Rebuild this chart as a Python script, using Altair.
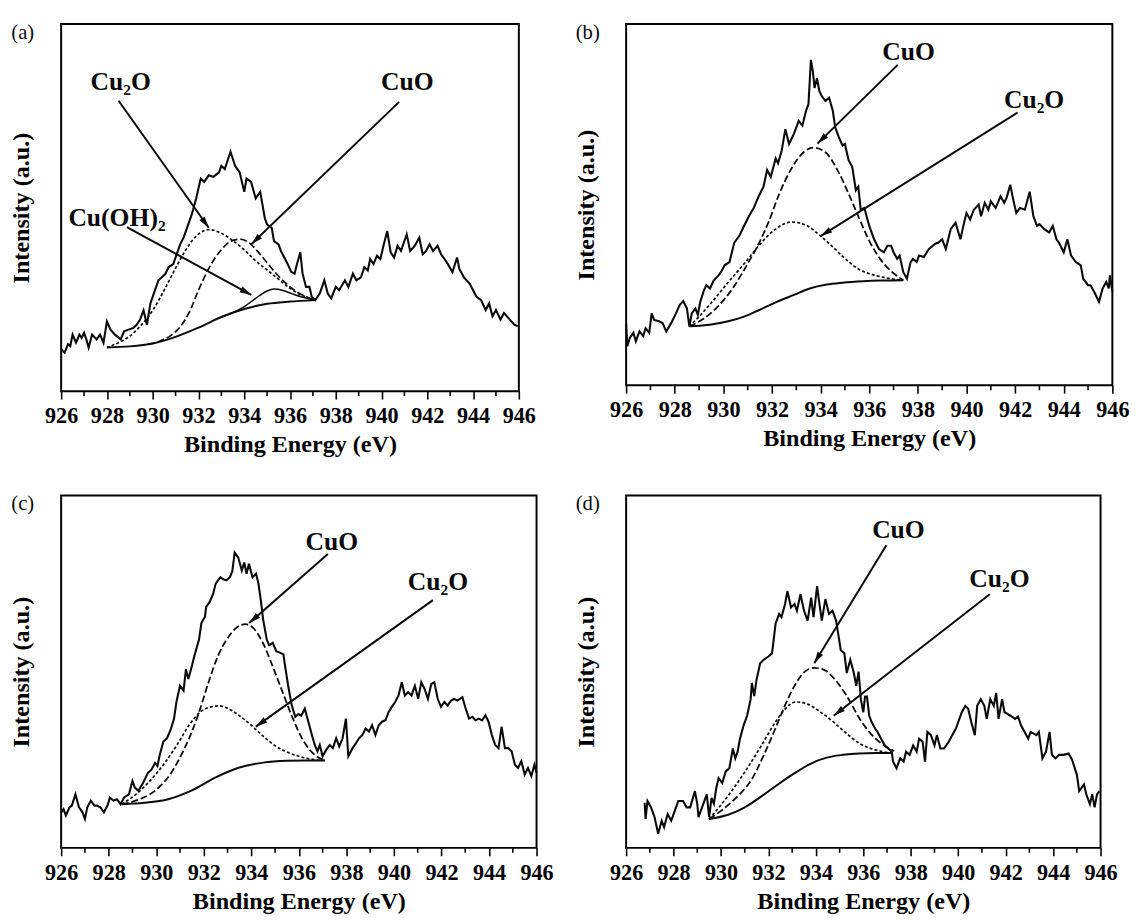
import math
import altair as alt
import pandas as pd

FONT = "Liberation Serif"
INK = "#0a0a0a"

# ---------------- panel (a) ----------------
A_E = [926.0, 926.15, 926.3, 926.4, 926.5, 926.65, 926.8, 926.9, 927.0, 927.1, 927.2, 927.35, 927.55, 927.7,
       927.85, 928.0, 928.15, 928.35, 928.6, 928.75, 929.0, 929.15, 929.3, 929.45, 929.6, 929.75, 929.9, 930.1,
       930.25, 930.4, 930.55, 930.7, 930.9, 931.0, 931.2, 931.35, 931.5, 931.7, 931.9, 932.1, 932.25, 932.45,
       932.65, 932.9, 933.0, 933.15, 933.4, 933.6, 933.8, 934.0, 934.1, 934.3, 934.5, 934.7, 934.9, 935.0,
       935.2, 935.3, 935.5, 935.6, 935.75, 935.9, 936.05, 936.2, 936.3, 936.45, 936.55, 936.7, 936.85, 936.95,
       937.1, 937.3, 937.5, 937.65, 937.8, 938.0, 938.15, 938.4, 938.55, 938.75, 938.9, 939.1, 939.25, 939.4,
       939.5, 939.65, 939.8, 939.95, 940.1, 940.25, 940.4, 940.55, 940.7, 940.85, 941.0, 941.1, 941.25, 941.45,
       941.65, 941.8, 941.95, 942.1, 942.25, 942.45, 942.6, 942.75, 942.9, 943.1, 943.3, 943.4, 943.6, 943.85,
       944.0, 944.15, 944.35, 944.55, 944.7, 944.85, 945.0, 945.2, 945.35, 945.55, 945.8, 945.95]
A_I = [11.4, 10.5, 12.8, 12.3, 15.4, 13.2, 15.4, 14.5, 15.9, 14.1, 11.9, 15.4, 14.1, 15.4,
       13.2, 19.0, 16.8, 15.4, 14.1, 16.3, 16.9, 17.2, 18.1, 19.5, 22.0, 18.1, 23.9, 27.5,
       30.2, 31.0, 31.9, 33.8, 34.6, 36.4, 40.0, 41.8, 44.5, 48.0, 52.5, 57.9, 57.0, 58.8,
       58.4, 59.6, 61.4, 60.5, 65.2, 61.4, 59.6, 54.3, 57.9, 57.0, 52.5, 54.3, 47.1, 45.4,
       44.5, 40.9, 40.0, 38.2, 36.4, 34.6, 32.5, 32.0, 34.5, 37.8, 32.0, 28.4, 28.4, 25.7,
       24.8, 26.6, 30.2, 26.6, 25.3, 28.4, 27.5, 30.2, 28.4, 32.0, 30.2, 31.0, 33.8, 32.9,
       36.0, 34.6, 36.9, 36.0, 40.0, 43.6, 37.8, 36.4, 39.6, 38.2, 40.9, 42.7, 38.2, 39.6,
       41.8, 37.3, 38.2, 40.0, 38.2, 39.6, 37.3, 36.0, 34.6, 32.4, 36.4, 33.3, 31.0, 29.3,
       27.5, 25.7, 24.8, 22.1, 23.9, 20.4, 22.1, 19.5, 21.3, 19.9, 18.1, 17.7]
A_BG_E = [928.0, 929.0, 930.0, 931.0, 932.0, 933.0, 934.0, 935.0, 936.0, 937.1]
A_BG_I = [11.9, 12.2, 13.0, 14.8, 17.3, 20.2, 22.4, 23.8, 24.4, 24.8]
A_CU2O_E = [928.0, 928.5, 929.0, 929.5, 930.0, 930.5, 931.0, 931.5, 932.0, 932.45, 933.0, 933.5, 934.0,
            934.5, 935.0, 935.5, 936.0, 936.5, 937.1]
A_CU2O_I = [11.9, 13.2, 15.0, 18.0, 22.0, 27.5, 33.5, 39.0, 42.8, 44.0, 43.0, 41.0, 38.5,
            35.5, 33.0, 30.5, 28.0, 26.2, 24.8]
A_CUO_E = [929.8, 930.3, 930.8, 931.2, 931.6, 932.0, 932.5, 933.0, 933.4, 933.8, 934.2, 934.6, 935.0,
           935.4, 935.8, 936.2, 936.6, 937.1]
A_CUO_I = [12.8, 13.6, 15.2, 17.5, 21.5, 27.5, 34.0, 38.5, 40.8, 41.4, 40.5, 38.0, 35.0,
           32.0, 29.5, 27.5, 26.0, 24.8]
A_CUOH_E = [933.0, 933.5, 934.0, 934.5, 935.0, 935.3, 935.7, 936.1, 936.6, 937.1]
A_CUOH_I = [20.2, 21.4, 23.0, 25.3, 27.3, 27.8, 27.4, 26.5, 25.5, 24.8]
A_ARROW_FROM_E = [928.51, 940.77, 928.87]
A_ARROW_FROM_I = [79.1, 78.8, 44.7]
A_ARROW_TO_E = [932.45, 934.31, 934.31]
A_ARROW_TO_I = [44.5, 40.0, 26.2]
A_LABELS = ["Cu\u2082O", "CuO", "Cu(OH)\u2082"]
A_LABEL_E = [928.6, 941.13, 928.44]
A_LABEL_I = [84.2, 84.2, 47.1]

# ---------------- panel (b) ----------------
B_E = [926.0, 926.05, 926.15, 926.3, 926.4, 926.55, 926.7, 926.8, 926.95, 927.05, 927.15, 927.35, 927.5,
       927.65, 927.85, 928.05, 928.2, 928.35, 928.5, 928.6, 928.7, 928.85, 928.95, 929.05, 929.2, 929.3,
       929.45, 929.6, 929.8, 929.9, 930.05, 930.25, 930.45, 930.65, 930.85, 931.05, 931.25, 931.45, 931.65,
       931.8, 931.95, 932.15, 932.25, 932.4, 932.55, 932.7, 932.9, 933.1, 933.25, 933.4, 933.5, 933.6,
       933.68, 933.75, 933.85, 933.95, 934.05, 934.2, 934.35, 934.5, 934.6, 934.75, 934.9, 935.0, 935.15,
       935.3, 935.45, 935.55, 935.65, 935.8, 936.0, 936.2, 936.4, 936.6, 936.75, 936.9, 937.0, 937.15,
       937.25, 937.4, 937.55, 937.7, 937.8, 937.95, 938.05, 938.25, 938.45, 938.7, 938.85, 939.0, 939.15,
       939.35, 939.55, 939.75, 939.9, 940.0, 940.15, 940.3, 940.5, 940.6, 940.75, 940.9, 941.0, 941.2,
       941.4, 941.55, 941.65, 941.8, 941.95, 942.05, 942.2, 942.4, 942.6, 942.75, 942.9, 943.0, 943.2,
       943.4, 943.55, 943.7, 943.8, 944.0, 944.15, 944.3, 944.5, 944.7, 944.8, 945.0, 945.1, 945.25,
       945.45, 945.6, 945.75, 945.85, 945.9, 946.0]
B_I = [17.0, 10.8, 13.1, 14.5, 12.2, 14.9, 13.6, 15.8, 14.5, 19.9, 18.1, 17.7, 17.2,
       14.9, 17.2, 19.9, 22.2, 23.3, 21.3, 16.3, 19.9, 21.3, 19.5, 23.1, 26.3, 27.7,
       26.8, 29.0, 30.4, 31.3, 33.2, 34.1, 39.5, 41.3, 44.1, 46.8, 49.1, 52.3, 55.0,
       59.6, 57.7, 62.8, 61.5, 65.0, 70.9, 66.8, 69.6, 73.2, 71.9, 76.0, 77.8, 90.1,
       86.9, 82.3, 85.0, 81.4, 80.0, 78.7, 79.6, 76.0, 71.4, 68.7, 66.4, 66.8, 62.3,
       60.5, 54.0, 55.0, 48.6, 49.1, 44.1, 40.4, 37.7, 36.8, 38.6, 38.6, 36.8, 35.0,
       35.9, 31.3, 29.5, 34.1, 35.0, 34.1, 35.9, 35.5, 37.7, 39.1, 39.5, 40.4, 37.7,
       43.2, 45.0, 40.4, 45.0, 47.7, 45.9, 48.6, 50.0, 46.8, 50.5, 48.6, 50.9, 49.1,
       52.3, 50.5, 51.9, 55.5, 50.5, 47.7, 49.1, 48.6, 53.6, 46.8, 44.1, 44.6, 43.2,
       42.3, 44.1, 40.4, 39.5, 36.8, 40.4, 35.9, 34.1, 33.2, 29.5, 27.7, 27.7, 25.9,
       23.1, 26.8, 28.6, 26.8, 30.4, 25.9]
B_BG_E = [928.6, 929.5, 930.2, 930.85, 931.5, 932.2, 932.9, 933.55, 934.25, 934.9, 935.75, 936.5, 937.4]
B_BG_I = [16.3, 16.8, 17.7, 19.0, 20.9, 23.1, 25.0, 26.8, 27.9, 28.4, 28.8, 29.0, 29.1]
B_CUO_E = [928.6, 929.2, 929.8, 930.4, 930.9, 931.4, 931.85, 932.3, 932.8, 933.3, 933.7, 934.2, 934.7,
           935.2, 935.6, 936.0, 936.5, 937.0, 937.4]
B_CUO_I = [16.3, 18.5, 22.0, 27.0, 32.5, 38.5, 45.0, 53.0, 60.0, 64.5, 65.8, 64.5, 59.5,
           52.3, 46.0, 40.0, 34.5, 31.0, 29.1]
B_CU2O_E = [928.6, 929.0, 929.5, 930.2, 930.9, 931.5, 932.1, 932.8, 933.4, 934.0, 934.5, 935.1, 935.6,
            936.2, 936.8, 937.4]
B_CU2O_I = [16.3, 19.0, 22.8, 28.5, 34.0, 39.0, 43.0, 45.2, 44.3, 41.3, 38.3, 34.5, 32.0,
            30.5, 29.6, 29.1]
B_ARROW_FROM_E = [937.17, 942.1]
B_ARROW_FROM_I = [88.7, 75.5]
B_ARROW_TO_E = [933.87, 934.0]
B_ARROW_TO_I = [66.9, 41.3]
B_LABELS = ["CuO", "Cu\u2082O"]
B_LABEL_E = [937.62, 942.78]
B_LABEL_I = [92.2, 78.9]

# ---------------- panel (c) ----------------
C_E = [926.0, 926.1, 926.2, 926.35, 926.45, 926.6, 926.75, 926.9, 927.0, 927.1, 927.25, 927.4, 927.5,
       927.65, 927.8, 927.95, 928.05, 928.2, 928.35, 928.5, 928.65, 928.85, 929.0, 929.1, 929.25, 929.45,
       929.65, 929.8, 929.95, 930.05, 930.15, 930.3, 930.45, 930.6, 930.75, 930.85, 931.0, 931.15, 931.25,
       931.35, 931.5, 931.6, 931.8, 931.9, 932.05, 932.1, 932.25, 932.4, 932.5, 932.7, 932.8, 932.95,
       933.1, 933.2, 933.3, 933.45, 933.6, 933.7, 933.8, 933.9, 934.05, 934.2, 934.3, 934.4, 934.5,
       934.65, 934.75, 934.9, 935.05, 935.2, 935.35, 935.4, 935.55, 935.7, 935.85, 935.98, 936.1, 936.25,
       936.4, 936.55, 936.67, 936.78, 936.88, 937.0, 937.15, 937.3, 937.43, 937.57, 937.7, 937.84, 937.98,
       938.08, 938.26, 938.4, 938.53, 938.67, 938.81, 938.95, 939.08, 939.22, 939.36, 939.5, 939.64,
       939.78, 939.91, 940.05, 940.19, 940.33, 940.46, 940.6, 940.74, 940.88, 941.02, 941.15, 941.29,
       941.43, 941.57, 941.7, 941.84, 941.98, 942.12, 942.26, 942.4, 942.53, 942.67, 942.88, 943.02,
       943.16, 943.3, 943.43, 943.57, 943.71, 943.85, 943.98, 944.12, 944.26, 944.4, 944.53, 944.67,
       944.81, 944.95, 945.09, 945.22, 945.36, 945.5, 945.64, 945.78, 945.91, 946.0]
C_I = [10.1, 11.0, 9.2, 11.5, 12.0, 15.2, 11.5, 10.1, 8.2, 11.5, 13.4, 12.0, 12.0,
       11.5, 10.1, 12.0, 14.3, 13.4, 13.8, 12.4, 14.3, 15.2, 19.0, 17.1, 16.2, 18.5,
       21.3, 22.2, 24.1, 23.2, 26.4, 30.2, 31.1, 33.4, 36.7, 41.4, 46.0, 44.6, 50.7,
       47.9, 51.6, 54.4, 59.1, 63.8, 65.6, 68.4, 69.8, 72.2, 75.0, 76.8, 76.3, 75.9,
       76.8, 78.5, 83.8, 82.4, 78.7, 81.0, 77.8, 80.6, 76.8, 77.8, 75.0, 70.3, 64.7,
       59.1, 57.5, 58.2, 55.8, 55.4, 54.9, 52.6, 46.0, 40.5, 37.2, 38.0, 37.5, 39.5,
       35.8, 32.0, 29.2, 27.4, 29.2, 26.0, 27.8, 29.2, 28.3, 31.1, 28.8, 31.1, 36.7,
       26.0, 28.3, 29.7, 31.1, 32.0, 33.9, 33.0, 34.8, 32.0, 34.8, 35.8, 36.2,
       38.6, 40.0, 41.4, 43.2, 47.0, 43.2, 44.2, 43.2, 46.0, 42.3, 47.0, 45.1,
       42.3, 46.5, 47.0, 42.3, 40.0, 41.4, 40.4, 41.8, 42.3, 41.8, 42.8, 39.5,
       36.7, 37.2, 36.2, 36.7, 36.2, 37.6, 35.8, 32.0, 29.2, 28.3, 34.4, 28.3,
       28.3, 27.4, 23.6, 22.7, 24.6, 20.8, 22.7, 20.4, 23.6, 21.3]
C_BG_E = [928.55, 929.5, 930.5, 931.5, 932.5, 933.5, 934.5, 935.5, 936.3, 937.1]
C_BG_I = [12.4, 12.8, 13.8, 16.3, 20.0, 22.8, 24.2, 24.7, 24.8, 24.8]
C_CU2O_E = [928.55, 929.2, 929.8, 930.4, 930.9, 931.4, 931.9, 932.3, 932.65, 933.0, 933.5, 934.0, 934.5,
            935.0, 935.5, 936.0, 936.5, 937.1]
C_CU2O_I = [12.4, 15.5, 19.5, 24.5, 29.5, 35.0, 38.8, 40.0, 40.3, 39.6, 37.5, 34.8, 31.7,
            29.0, 27.2, 26.0, 25.2, 24.8]
C_CUO_E = [928.55, 929.3, 930.0, 930.6, 931.1, 931.5, 931.85, 932.2, 932.6, 933.0, 933.4, 933.75, 934.1,
           934.5, 934.9, 935.3, 935.7, 936.1, 936.5, 937.1]
C_CUO_I = [12.4, 13.8, 16.5, 21.0, 27.0, 33.0, 39.5, 47.0, 54.5, 59.5, 62.6, 63.5, 62.3,
           58.0, 51.5, 44.5, 37.5, 31.5, 27.5, 24.8]
C_ARROW_FROM_E = [937.22, 941.64]
C_ARROW_FROM_I = [83.4, 70.3]
C_ARROW_TO_E = [933.91, 934.19]
C_ARROW_TO_I = [63.8, 34.4]
C_LABELS = ["CuO", "Cu\u2082O"]
C_LABEL_E = [937.39, 941.85]
C_LABEL_I = [86.9, 75.4]

# ---------------- panel (d) ----------------
D_E = [926.78, 926.82, 926.9, 927.05, 927.2, 927.35, 927.5, 927.6, 927.75, 927.9, 928.05, 928.2, 928.4,
       928.55, 928.7, 928.9, 929.0, 929.05, 929.25, 929.4, 929.5, 929.6, 929.7, 929.8, 929.9, 930.05,
       930.2, 930.35, 930.5, 930.6, 930.7, 930.8, 930.95, 931.1, 931.25, 931.3, 931.4, 931.5, 931.65,
       931.8, 932.0, 932.15, 932.3, 932.45, 932.55, 932.7, 932.8, 932.95, 933.1, 933.2, 933.35, 933.5,
       933.65, 933.8, 933.9, 934.05, 934.15, 934.25, 934.4, 934.55, 934.7, 934.85, 935.05, 935.2, 935.3,
       935.45, 935.6, 935.7, 935.8, 935.9, 936.0, 936.07, 936.15, 936.25, 936.35, 936.5, 936.6, 936.75,
       936.9, 937.05, 937.2, 937.25, 937.4, 937.55, 937.7, 937.8, 937.95, 938.1, 938.25, 938.35, 938.5,
       938.6, 938.7, 938.85, 939.0, 939.1, 939.25, 939.4, 939.6, 939.75, 939.9, 940.0, 940.15, 940.3,
       940.42, 940.55, 940.7, 940.8, 940.95, 941.1, 941.2, 941.35, 941.5, 941.6, 941.7, 941.85, 941.95,
       942.2, 942.4, 942.52, 942.65, 942.8, 942.95, 943.05, 943.3, 943.4, 943.55, 943.7, 943.85, 943.95,
       944.1, 944.25, 944.45, 944.65, 944.8, 945.0, 945.1, 945.3, 945.4, 945.55, 945.65, 945.75, 945.85,
       945.95]
D_I = [12.8, 8.2, 13.3, 11.5, 8.7, 4.0, 7.7, 5.9, 9.6, 7.7, 10.5, 13.3, 13.3,
       11.5, 11.5, 16.1, 12.4, 8.7, 12.4, 15.2, 8.7, 14.2, 12.5, 17.0, 19.8, 18.4,
       21.7, 22.6, 28.2, 25.4, 27.3, 31.0, 34.7, 37.5, 42.2, 46.8, 43.1, 47.8, 52.4,
       53.4, 54.3, 55.2, 63.6, 66.4, 65.5, 69.2, 72.9, 68.2, 69.2, 67.3, 72.0, 67.3,
       64.5, 71.0, 65.5, 74.3, 69.2, 64.5, 70.6, 66.4, 67.3, 64.5, 56.1, 55.2, 49.6,
       53.4, 49.6, 46.0, 50.0, 42.0, 38.5, 42.9, 43.0, 37.5, 35.7, 33.8, 32.9, 31.0,
       29.1, 28.2, 27.3, 24.5, 22.6, 25.4, 24.5, 27.3, 26.4, 29.1, 27.3, 31.0, 30.1,
       24.5, 32.9, 32.0, 29.1, 32.0, 28.2, 28.2, 30.1, 32.0, 33.8, 35.7, 38.5, 40.3,
       39.5, 35.7, 32.0, 40.3, 42.2, 40.3, 36.6, 42.2, 40.3, 44.0, 36.6, 42.2, 38.5,
       37.5, 36.6, 37.3, 34.7, 32.9, 31.0, 32.9, 32.0, 32.9, 25.4, 27.3, 32.9, 26.4,
       25.4, 26.4, 26.4, 26.8, 25.0, 20.8, 16.1, 18.0, 15.2, 12.4, 15.2, 11.5, 15.2,
       16.1]
D_BG_E = [929.5, 930.3, 931.0, 931.7, 932.4, 933.1, 933.75, 934.45, 935.15, 935.8, 936.5, 937.2]
D_BG_I = [8.2, 9.4, 11.5, 14.6, 18.0, 21.2, 23.8, 25.6, 26.4, 26.8, 26.9, 26.9]
D_CU2O_E = [929.5, 930.3, 931.0, 931.7, 932.3, 932.7, 933.15, 933.65, 934.2, 934.75, 935.3, 935.85, 936.5,
            937.2]
D_CU2O_I = [8.2, 14.8, 21.5, 29.0, 35.8, 39.4, 41.4, 40.8, 38.5, 35.7, 32.4, 29.6, 27.8, 26.9]
D_CUO_E = [929.5, 930.0, 930.6, 931.3, 931.85, 932.3, 932.7, 933.1, 933.5, 933.93, 934.35, 934.75, 935.3,
           935.85, 936.3, 936.9, 937.3]
D_CUO_I = [8.2, 10.5, 14.0, 19.5, 27.0, 34.0, 40.5, 46.0, 49.8, 51.1, 50.5, 48.2, 43.1,
           36.6, 32.5, 29.0, 27.5]
D_ARROW_FROM_E = [936.97, 941.33]
D_ARROW_FROM_I = [85.9, 72.0]
D_ARROW_TO_E = [933.93, 934.75]
D_ARROW_TO_I = [52.4, 37.5]
D_LABELS = ["CuO", "Cu\u2082O"]
D_LABEL_E = [937.48, 941.74]
D_LABEL_I = [90.1, 76.2]

MAJOR_TICKS = [926, 928, 930, 932, 934, 936, 938, 940, 942, 944, 946]
MINOR_TICKS = [927, 929, 931, 933, 935, 937, 939, 941, 943, 945]

# ---------------- building ----------------
XSCALE = alt.Scale(domain=[926, 946], nice=False, zero=False)
YSCALE = alt.Scale(domain=[0, 100], nice=False, zero=False)
XAXIS = alt.Axis(values=MAJOR_TICKS, format="d", title="Binding Energy (eV)", grid=False, domain=False,
                 tickSize=8, tickWidth=1.6, tickColor="black", labelFlush=False, labelOverlap=False,
                 labelFont=FONT, labelFontSize=22.5, labelFontWeight="bold", labelColor="black",
                 labelPadding=6, titleFont=FONT, titleFontSize=24.5, titleFontWeight="bold",
                 titleColor="black", titlePadding=6)
YAXIS = alt.Axis(title="Intensity (a.u.)", labels=False, ticks=False, domain=False, grid=False,
                 titleFont=FONT, titleFontSize=24.5, titleFontWeight="bold", titleColor="black",
                 titlePadding=28)

ARROW_PATH = "M0,0L-0.55,2L0.55,2Z"


def xe(field):
    return alt.X(f"{field}:Q", scale=XSCALE, axis=XAXIS)


def ye(field):
    return alt.Y(f"{field}:Q", scale=YSCALE, axis=YAXIS)


def line_layer(es, ys, dash=None, width=1.8, interp="linear"):
    df = pd.DataFrame({"e": es, "i": ys})
    kw = dict(color=INK, strokeWidth=width, interpolate=interp)
    if dash is not None:
        kw["strokeDash"] = dash
    return alt.Chart(df).mark_line(**kw).encode(x=xe("e"), y=ye("i"))


def make_panel(letter, W, H, spec, comps, arrows, labels):
    layers = [line_layer(spec[0], spec[1], width=2.1)]
    for es, ys, dash, width in comps:
        layers.append(line_layer(es, ys, dash=dash, width=width, interp="monotone"))
    fe, fi, te, ti = arrows
    angs = []
    for x1, y1, x2, y2 in zip(fe, fi, te, ti):
        dx = (x2 - x1) / 20.0 * W
        dy = -(y2 - y1) / 100.0 * H
        angs.append(math.degrees(math.atan2(dx, -dy)) % 360)
    adf = pd.DataFrame({"x1": fe, "y1": fi, "x2": te, "y2": ti, "ang": angs})
    layers.append(alt.Chart(adf).mark_rule(color=INK, strokeWidth=2.0).encode(
        x=xe("x1"), y=ye("y1"), x2="x2:Q", y2="y2:Q"))
    layers.append(alt.Chart(adf).mark_point(shape=ARROW_PATH, filled=True, size=140, color=INK,
                                            opacity=1, strokeWidth=0).encode(
        x=xe("x2"), y=ye("y2"), angle=alt.Angle("ang:Q", scale=None)))
    ldf = pd.DataFrame({"t": labels[0], "x": labels[1], "y": labels[2]})
    layers.append(alt.Chart(ldf).mark_text(font=FONT, fontSize=26, fontWeight="bold", color=INK,
                                           align="center", baseline="middle").encode(
        x=xe("x"), y=ye("y"), text="t:N"))
    mdf = pd.DataFrame({"e": MINOR_TICKS})
    layers.append(alt.Chart(mdf).mark_rule(color="black", strokeWidth=1.6).encode(
        x=xe("e"), y=alt.value(H), y2=alt.value(H + 5)))
    pdf = pd.DataFrame({"t": [letter]})
    layers.append(alt.Chart(pdf).mark_text(font=FONT, fontSize=21, color=INK, align="center",
                                           baseline="middle").encode(
        x=alt.value(-39), y=alt.value(9), text="t:N"))
    return alt.layer(*layers).properties(width=W, height=H)


CUO_DASH = [7, 3]
CU2O_DASH = [3, 2.2]

pa = make_panel("(a)", 465, 373, (A_E, A_I),
                [(A_BG_E, A_BG_I, None, 2.0), (A_CU2O_E, A_CU2O_I, CU2O_DASH, 1.7),
                 (A_CUO_E, A_CUO_I, CUO_DASH, 1.7), (A_CUOH_E, A_CUOH_I, None, 1.5)],
                (A_ARROW_FROM_E, A_ARROW_FROM_I, A_ARROW_TO_E, A_ARROW_TO_I),
                (A_LABELS, A_LABEL_E, A_LABEL_I))
pb = make_panel("(b)", 494, 367, (B_E, B_I),
                [(B_BG_E, B_BG_I, None, 2.0), (B_CUO_E, B_CUO_I, CUO_DASH, 1.8),
                 (B_CU2O_E, B_CU2O_I, CU2O_DASH, 1.7)],
                (B_ARROW_FROM_E, B_ARROW_FROM_I, B_ARROW_TO_E, B_ARROW_TO_I),
                (B_LABELS, B_LABEL_E, B_LABEL_I))
pc = make_panel("(c)", 483, 358, (C_E, C_I),
                [(C_BG_E, C_BG_I, None, 2.0), (C_CUO_E, C_CUO_I, CUO_DASH, 1.8),
                 (C_CU2O_E, C_CU2O_I, CU2O_DASH, 1.7)],
                (C_ARROW_FROM_E, C_ARROW_FROM_I, C_ARROW_TO_E, C_ARROW_TO_I),
                (C_LABELS, C_LABEL_E, C_LABEL_I))
pd_ = make_panel("(d)", 482, 358, (D_E, D_I),
                 [(D_BG_E, D_BG_I, None, 2.0), (D_CUO_E, D_CUO_I, CUO_DASH, 1.8),
                  (D_CU2O_E, D_CU2O_I, CU2O_DASH, 1.7)],
                 (D_ARROW_FROM_E, D_ARROW_FROM_I, D_ARROW_TO_E, D_ARROW_TO_I),
                 (D_LABELS, D_LABEL_E, D_LABEL_I))

chart = alt.concat(pa, pb, pc, pd_, columns=2, spacing={"row": 106, "column": 80},
                   bounds="flush", align="all").properties(
    padding={"left": 0, "top": 6, "right": 5, "bottom": 0},
    background="white",
).configure_view(stroke="black", strokeWidth=2)

chart.save("out.html", embed_options={"renderer": "svg", "actions": False})
